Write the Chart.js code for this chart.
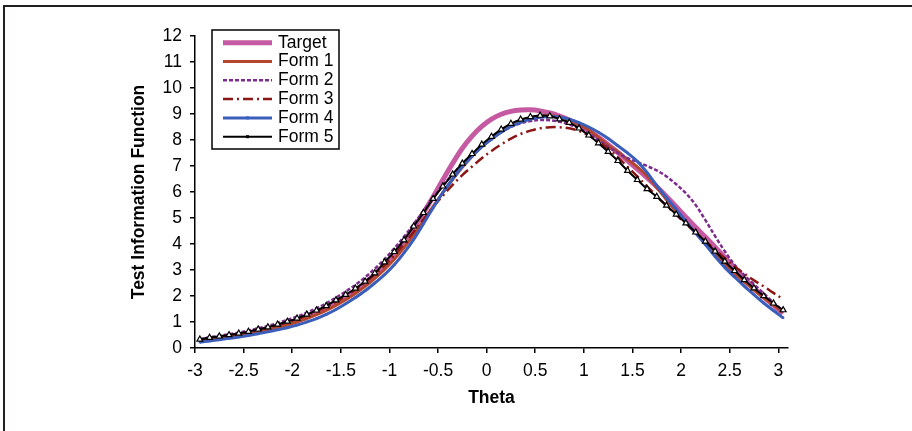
<!DOCTYPE html>
<html>
<head>
<meta charset="utf-8">
<script src="https://cdn.jsdelivr.net/npm/chart.js@4.4.1/dist/chart.umd.min.js"></script>
<style>
  html, body { margin: 0; padding: 0; background: #fff; }
  #wrap { position: relative; width: 912px; height: 431px; overflow: hidden; }
  #frame { position: absolute; left: 3px; top: 5px; width: 1000px; height: 1000px;
           border-top: 2px solid #231f20; border-left: 2px solid #231f20; }
  #chart { position: absolute; left: 0; top: 0; }
</style>
</head>
<body>
<div id="wrap">
  <div id="frame"></div>
  <canvas id="chart" width="912" height="431"></canvas>
</div>
<script>
// theta points (0.1 apart)
const theta = [
  -2.95, -2.85, -2.75, -2.65, -2.55, -2.45, -2.35, -2.25, -2.15, -2.05,
  -1.95, -1.85, -1.75, -1.65, -1.55, -1.45, -1.35, -1.25, -1.15, -1.05,
  -0.95, -0.85, -0.75, -0.65, -0.55, -0.45, -0.35, -0.25, -0.15, -0.05,
   0.05,  0.15,  0.25,  0.35,  0.45,  0.55,  0.65,  0.75,  0.85,  0.95,
   1.05,  1.15,  1.25,  1.35,  1.45,  1.55,  1.65,  1.75,  1.85,  1.95,
   2.05,  2.15,  2.25,  2.35,  2.45,  2.55,  2.65,  2.75,  2.85,  2.95,
   3.05
];

const target = [
  0.28, 0.33, 0.38, 0.44, 0.50, 0.57, 0.65, 0.73, 0.83, 0.94,
  1.06, 1.20, 1.35, 1.53, 1.73, 1.96, 2.21, 2.50, 2.83, 3.20,
  3.62, 4.10, 4.63, 5.20, 5.82, 6.47, 7.10, 7.68, 8.15, 8.52,
  8.80, 8.99, 9.10, 9.15, 9.16, 9.12, 9.04, 8.92, 8.77, 8.58,
  8.36, 8.10, 7.82, 7.52, 7.20, 6.88, 6.55, 6.20, 5.83, 5.43,
  5.03, 4.64, 4.27, 3.88, 3.48, 3.08, 2.67, 2.30, 1.97, 1.65,
  1.33
];
const form1 = [
  0.26, 0.31, 0.36, 0.42, 0.48, 0.54, 0.62, 0.70, 0.79, 0.89,
  1.00, 1.13, 1.28, 1.45, 1.64, 1.86, 2.10, 2.37, 2.68, 3.02,
  3.41, 3.86, 4.36, 4.90, 5.45, 5.98, 6.48, 6.95, 7.37, 7.74,
  8.06, 8.33, 8.56, 8.74, 8.86, 8.93, 8.94, 8.88, 8.76, 8.60,
  8.38, 8.10, 7.80, 7.55, 7.25, 6.97, 6.62, 6.17, 5.70, 5.25,
  4.82, 4.42, 4.02, 3.62, 3.23, 2.87, 2.54, 2.23, 1.93, 1.65,
  1.38
];
const form2 = [
  0.34, 0.41, 0.47, 0.53, 0.59, 0.67, 0.76, 0.85, 0.96, 1.08,
  1.21, 1.36, 1.53, 1.72, 1.94, 2.17, 2.43, 2.72, 3.05, 3.42,
  3.83, 4.28, 4.77, 5.27, 5.77, 6.25, 6.68, 7.08, 7.43, 7.76,
  8.05, 8.30, 8.50, 8.64, 8.73, 8.77, 8.76, 8.70, 8.60, 8.45,
  8.25, 8.00, 7.74, 7.50, 7.30, 7.15, 7.00, 6.83, 6.60, 6.30,
  5.95, 5.50, 4.92, 4.30, 3.72, 3.20, 2.80, 2.45, 2.10, 1.75,
  1.42
];
const form3 = [
  0.30, 0.36, 0.42, 0.48, 0.54, 0.61, 0.69, 0.78, 0.88, 0.99,
  1.11, 1.25, 1.41, 1.58, 1.78, 2.00, 2.24, 2.52, 2.83, 3.18,
  3.57, 4.00, 4.47, 4.95, 5.42, 5.86, 6.27, 6.65, 6.98, 7.30,
  7.58, 7.83, 8.05, 8.23, 8.36, 8.45, 8.49, 8.49, 8.45, 8.35,
  8.18, 7.95, 7.66, 7.33, 6.97, 6.60, 6.22, 5.84, 5.47, 5.12,
  4.78, 4.45, 4.12, 3.78, 3.45, 3.14, 2.86, 2.60, 2.37, 2.12,
  1.88
];
const form4 = [
  0.22, 0.27, 0.32, 0.37, 0.42, 0.48, 0.55, 0.62, 0.70, 0.78,
  0.88, 1.00, 1.13, 1.29, 1.48, 1.70, 1.94, 2.20, 2.50, 2.82,
  3.20, 3.66, 4.18, 4.78, 5.40, 5.98, 6.50, 6.98, 7.38, 7.74,
  8.03, 8.30, 8.52, 8.68, 8.80, 8.87, 8.90, 8.88, 8.80, 8.67,
  8.50, 8.30, 8.06, 7.78, 7.50, 7.18, 6.75, 6.25, 5.78, 5.34,
  4.87, 4.42, 3.98, 3.52, 3.10, 2.73, 2.38, 2.05, 1.73, 1.44,
  1.16
];
const form5 = [
  0.33, 0.40, 0.45, 0.50, 0.56, 0.63, 0.72, 0.80, 0.91, 1.02,
  1.14, 1.29, 1.45, 1.62, 1.84, 2.05, 2.29, 2.56, 2.88, 3.30,
  3.70, 4.15, 4.68, 5.20, 5.74, 6.22, 6.68, 7.10, 7.47, 7.83,
  8.13, 8.41, 8.63, 8.79, 8.89, 8.94, 8.92, 8.80, 8.67, 8.45,
  8.18, 7.88, 7.55, 7.20, 6.82, 6.47, 6.12, 5.82, 5.48, 5.14,
  4.80, 4.45, 4.10, 3.72, 3.33, 2.97, 2.62, 2.30, 2.00, 1.72,
  1.46
];

const seriesNames = ['Target', 'Form 1', 'Form 2', 'Form 3', 'Form 4', 'Form 5'];
const xTicks = [-3, -2.5, -2, -1.5, -1, -0.5, 0, 0.5, 1, 1.5, 2, 2.5, 3];
const yTicks = [0, 1, 2, 3, 4, 5, 6, 7, 8, 9, 10, 11, 12];

const FONT = '"Liberation Sans", Arial, sans-serif';

function pts(vals) {
  return theta.map((t, i) => ({ x: t, y: vals[i] }));
}

// legend drawn inside the plot, like the original
const legendBox = {
  id: 'legendBox',
  afterDatasetsDraw(chart) {
    const ctx = chart.ctx;
    ctx.save();
    ctx.fillStyle = '#fff';
    ctx.fillRect(212, 30, 127, 119);
    ctx.strokeStyle = '#000';
    ctx.lineWidth = 1.5;
    ctx.setLineDash([]);
    ctx.strokeRect(212, 30, 127, 119);

    chart.data.datasets.forEach((ds, i) => {
      const y = 42.7 + i * 18.8;
      ctx.beginPath();
      ctx.setLineDash(ds.borderDash || []);
      ctx.strokeStyle = ds.borderColor;
      ctx.lineWidth = ds.borderWidth;
      ctx.moveTo(223, y);
      ctx.lineTo(272, y);
      ctx.stroke();
      ctx.setLineDash([]);
      if (ds.pointRadius > 0) {
        ctx.fillStyle = ds.borderColor;
        ctx.fillRect(246, y - 1.5, 3, 3);
      }
      ctx.fillStyle = '#000';
      ctx.font = '17.5px ' + FONT;
      ctx.textBaseline = 'middle';
      ctx.textAlign = 'left';
      ctx.fillText(ds.label, 278, y);
    });
    ctx.restore();
  }
};

const datasets = [
  { label: seriesNames[0], data: pts(target), borderColor: '#C65AA2', borderWidth: 5,
    pointRadius: 0, order: 5 },
  { label: seriesNames[1], data: pts(form1), borderColor: '#B4462E', borderWidth: 3,
    pointRadius: 0, order: 4 },
  { label: seriesNames[2], data: pts(form2), borderColor: '#7D2C8E', borderWidth: 2.5,
    borderDash: [4, 2], pointRadius: 0, order: 3 },
  { label: seriesNames[3], data: pts(form3), borderColor: '#8B1616', borderWidth: 2.5,
    borderDash: [10, 4, 2, 4], pointRadius: 0, order: 2 },
  { label: seriesNames[4], data: pts(form4), borderColor: '#3C5EBB', borderWidth: 3,
    pointRadius: 1.6, pointStyle: 'rect', pointBackgroundColor: '#3C5EBB',
    pointBorderWidth: 0, order: 1 },
  { label: seriesNames[5], data: pts(form5), borderColor: '#000', borderWidth: 2,
    pointRadius: 3.4, pointStyle: 'triangle', pointBackgroundColor: '#fff',
    pointBorderColor: '#000', pointBorderWidth: 1.2, order: 0 }
];
datasets.forEach(d => { d.fill = false; d.tension = 0.35; d.backgroundColor = d.borderColor; });

new Chart(document.getElementById('chart').getContext('2d'), {
  type: 'line',
  data: { datasets: datasets },
  plugins: [legendBox],
  options: {
    responsive: false,
    animation: false,
    devicePixelRatio: 1,
    layout: { padding: { left: 129, right: 124, top: 36, bottom: 22 } },
    plugins: { legend: { display: false }, tooltip: { enabled: false } },
    scales: {
      x: {
        type: 'linear', min: -3, max: 3.1,
        afterBuildTicks: s => { s.ticks = xTicks.map(v => ({ value: v })); },
        afterFit: s => { s.height = 61; },
        ticks: { callback: v => String(v), color: '#000', padding: 8,
                 autoSkip: false, maxRotation: 0, font: { family: FONT, size: 17.5 } },
        grid: { drawOnChartArea: false, drawTicks: true, tickLength: 5, color: '#000', lineWidth: 1.5 },
        border: { display: true, color: '#000', width: 1.5 },
        title: { display: true, text: 'Theta', color: '#000', padding: 0,
                 font: { family: FONT, size: 17.5, weight: 'bold' } }
      },
      y: {
        type: 'linear', min: 0, max: 12,
        afterBuildTicks: s => { s.ticks = yTicks.map(v => ({ value: v })); },
        afterFit: s => { s.width = 66; },
        ticks: { callback: v => String(v), color: '#000', padding: 8,
                 font: { family: FONT, size: 17.5 } },
        grid: { drawOnChartArea: false, drawTicks: true, tickLength: 5, color: '#000', lineWidth: 1.5 },
        border: { display: true, color: '#000', width: 1.5 },
        title: { display: true, text: 'Test Information Function', color: '#000', padding: 0,
                 font: { family: FONT, size: 17.5, weight: 'bold' } }
      }
    }
  }
});
</script>
</body>
</html>
